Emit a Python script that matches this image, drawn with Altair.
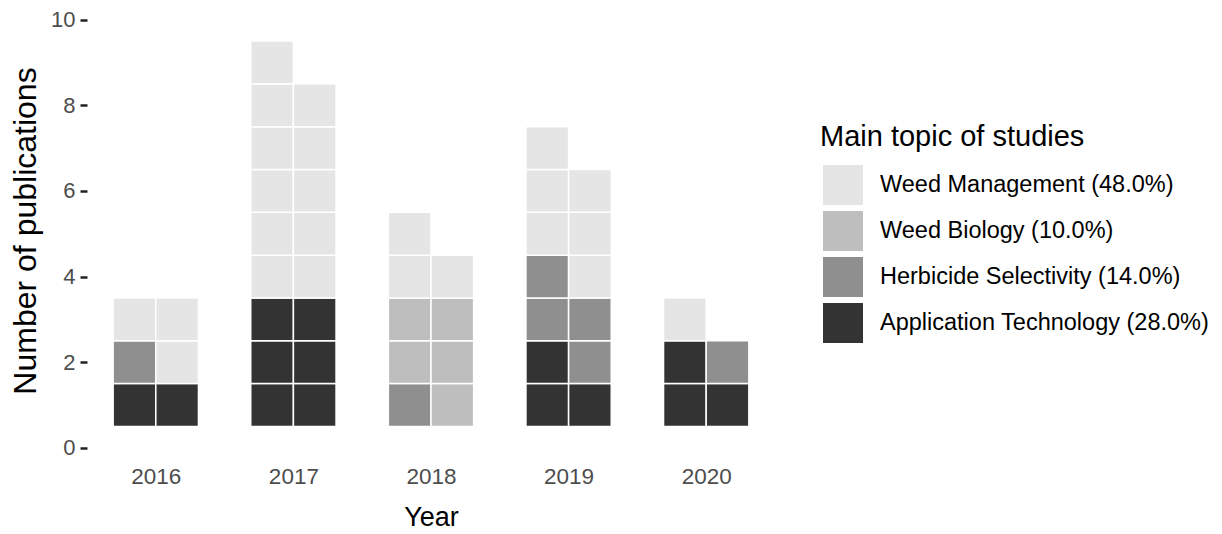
import altair as alt
import pandas as pd

years = [2016, 2017, 2018, 2019, 2020]
# topics stacked from bottom to top, per year: left column and right column
left_column = [
    ["AT", "HS", "WM"],
    ["AT", "AT", "AT", "WM", "WM", "WM", "WM", "WM", "WM"],
    ["HS", "WB", "WB", "WM", "WM"],
    ["AT", "AT", "HS", "HS", "WM", "WM", "WM"],
    ["AT", "AT", "WM"],
]
right_column = [
    ["AT", "WM", "WM"],
    ["AT", "AT", "AT", "WM", "WM", "WM", "WM", "WM"],
    ["WB", "WB", "WB", "WM"],
    ["AT", "HS", "HS", "WM", "WM", "WM"],
    ["AT", "HS"],
]
topic_codes = ["WM", "WB", "HS", "AT"]
topic_names = ["Weed Management", "Weed Biology", "Herbicide Selectivity", "Application Technology"]
topic_colors = ["#E5E5E5", "#BEBEBE", "#8F8F8F", "#333333"]
y_ticks = [0, 2, 4, 6, 8, 10]

rows = []
for yr, lc, rc in zip(years, left_column, right_column):
    for side, col in ((0, lc), (1, rc)):
        for i, code in enumerate(col):
            rows.append({"year": yr, "side": side, "row": i + 1, "code": code})
df = pd.DataFrame(rows)
total = len(df)
labels = {}
for c, n in zip(topic_codes, topic_names):
    pct = 100.0 * (df["code"] == c).sum() / total
    labels[c] = f"{n} ({pct:.1f}%)"
df["topic"] = df["code"].map(labels)
legend_order = [labels[c] for c in topic_codes]

W = 0.31
chart = alt.Chart(df).transform_calculate(
    x0=f"datum.year + (datum.side - 1) * {W}",
    x1=f"datum.year + datum.side * {W}",
    y0="datum.row - 0.5",
    y1="datum.row + 0.5",
).mark_rect(stroke="white", strokeWidth=1.5).encode(
    x=alt.X("x0:Q", scale=alt.Scale(domain=[2015.5, 2020.5], nice=False, zero=False),
            axis=alt.Axis(values=years, format="d", title="Year", ticks=False, domain=False,
                          grid=False, labelFontSize=22.5, labelColor="#4D4D4D",
                          labelPadding=15, titleFontSize=27, titleColor="black",
                          titlePadding=17, titleFontWeight="normal")),
    x2="x1:Q",
    y=alt.Y("y0:Q", scale=alt.Scale(domain=[-0.05, 10.2], nice=False),
            axis=alt.Axis(values=y_ticks, title="Number of publications", ticks=True,
                          tickSize=7, tickWidth=2.5, tickColor="#222222", domain=False,
                          grid=False, labelFontSize=22, labelColor="#4D4D4D",
                          labelPadding=5, titleFontSize=32, titleColor="black",
                          titlePadding=8, titleFontWeight="normal")),
    y2="y1:Q",
    fill=alt.Fill("topic:N", sort=legend_order,
                  scale=alt.Scale(domain=legend_order, range=topic_colors),
                  legend=alt.Legend(title="Main topic of studies", orient="none",
                                    legendX=733, legendY=112, symbolType="square",
                                    symbolSize=1600, symbolStrokeWidth=0,
                                    symbolOpacity=1, symbolOffset=3,
                                    labelFontSize=23.5,
                                    labelColor="black", labelOffset=17,
                                    titleFontSize=29, titleFontWeight="normal",
                                    titleColor="black", titlePadding=13,
                                    titleLimit=600,
                                    rowPadding=6, padding=0, labelLimit=600)),
).properties(
    width=688, height=439,
    autosize=alt.AutoSizeParams(type="none"),
    padding={"left": 79, "top": 3, "right": 439, "bottom": 84},
).configure(
    font="Liberation Sans",
    view=alt.ViewConfig(stroke="transparent", strokeWidth=0),
)

chart.save("out.html", embed_options={"renderer": "svg", "actions": False})
